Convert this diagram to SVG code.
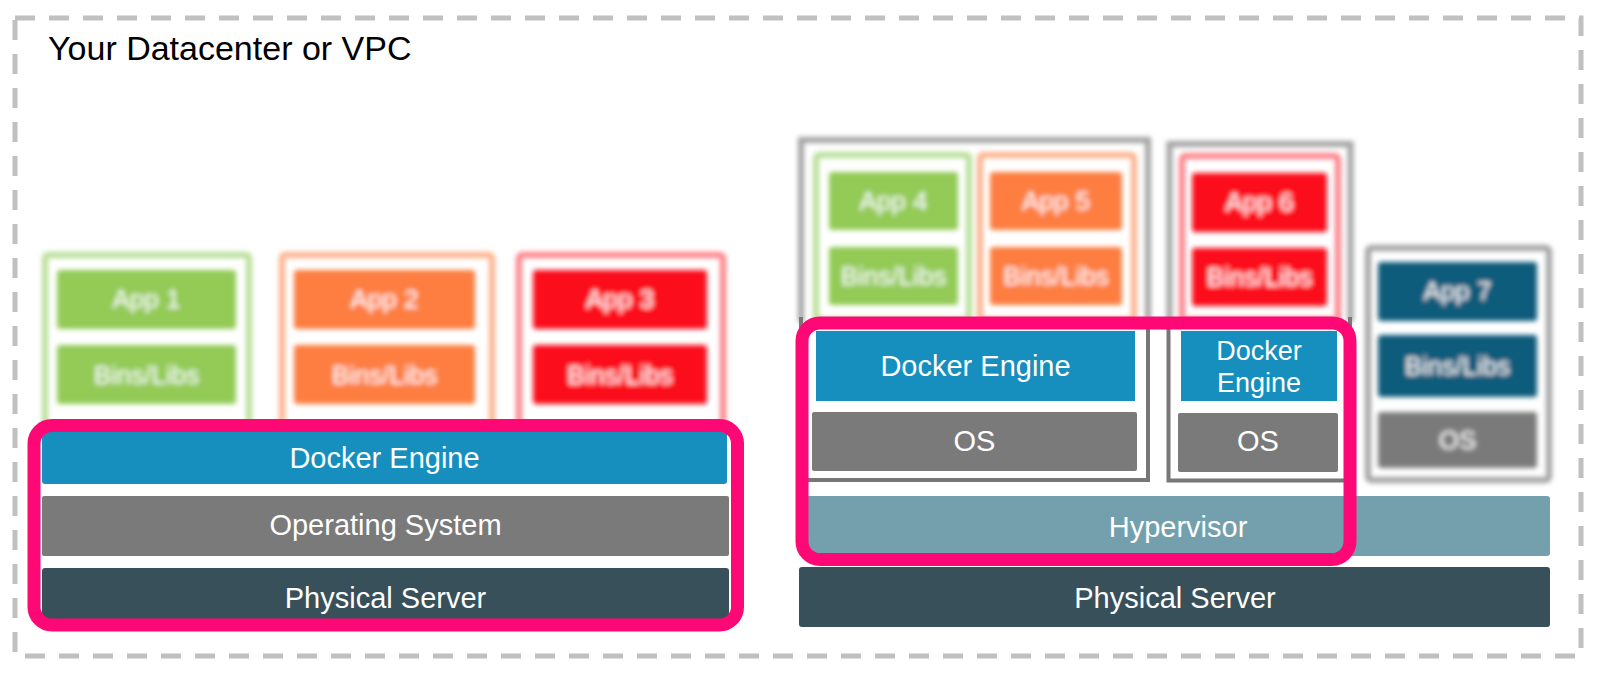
<svg xmlns="http://www.w3.org/2000/svg" width="1600" height="675" viewBox="0 0 1600 675">
  <defs>
    <filter id="blur" x="-10%" y="-10%" width="120%" height="120%">
      <feGaussianBlur stdDeviation="2.5"/>
    </filter>
    <style>
      text { font-family: "Liberation Sans", Arial, sans-serif; fill: #ffffff; text-anchor: middle; }
      .title { fill: #000000; text-anchor: start; font-size: 34px; }
      .lbl { font-size: 29px; }
      .app { font-size: 26px; }
      .docker { fill: #168fbe; }
      .os { fill: #7a7a7a; }
      .phys { fill: #38505a; }
      .hyp { fill: #74a0ae; }
      .green { fill: #93cb56; }
      .orange { fill: #fd7e40; }
      .red { fill: #fc0b1e; }
      .navy { fill: #0d5c7c; }
      .cgreen { fill: none; stroke: #b7de95; stroke-width: 6; }
      .corange { fill: none; stroke: #fdb18b; stroke-width: 6; }
      .cred { fill: none; stroke: #fd8088; stroke-width: 6; }
      .vmblur { fill: none; stroke: #a2a2a2; stroke-width: 6; }
      .vm { fill: none; stroke: #777777; stroke-width: 4; }
      .pink { fill: none; stroke: #fe0875; stroke-width: 13; }
    </style>
  </defs>

  <rect width="1600" height="675" fill="#ffffff"/>

  <g id="datacenter">
    <rect x="15" y="18" width="1566" height="638" fill="none" stroke="#c0c0c0" stroke-width="5" stroke-dasharray="20 14"/>
    <text class="title" x="48" y="60">Your Datacenter or VPC</text>
  </g>

  <!-- Blurred application containers -->
  <g id="left-apps" filter="url(#blur)">
    <g id="container1">
      <rect class="cgreen" x="45" y="255" width="204" height="172" rx="3"/>
      <rect class="green" x="57" y="270" width="179" height="59" rx="3"/>
      <text class="app" x="146.5" y="308">App 1</text>
      <rect class="green" x="57" y="345" width="179" height="59" rx="3"/>
      <text class="app" x="146.5" y="384">Bins/Libs</text>
    </g>
    <g id="container2">
      <rect class="corange" x="282" y="255" width="210" height="172" rx="3"/>
      <rect class="orange" x="294" y="270" width="181" height="59" rx="3"/>
      <text class="app" x="384.5" y="308">App 2</text>
      <rect class="orange" x="294" y="345" width="181" height="59" rx="3"/>
      <text class="app" x="384.5" y="384">Bins/Libs</text>
    </g>
    <g id="container3">
      <rect class="cred" x="519" y="255" width="204" height="172" rx="3"/>
      <rect class="red" x="533" y="270" width="174" height="59" rx="3"/>
      <text class="app" x="620" y="308">App 3</text>
      <rect class="red" x="533" y="345" width="174" height="59" rx="3"/>
      <text class="app" x="620" y="384">Bins/Libs</text>
    </g>
  </g>

  <g id="right-apps" filter="url(#blur)">
    <g id="vm1-top">
      <path class="vmblur" d="M801,322 V140 H1148 V322"/>
      <rect class="cgreen" x="816" y="155" width="153" height="165" rx="3"/>
      <rect class="green" x="829" y="172" width="129" height="58" rx="3"/>
      <text class="app" x="893.5" y="210">App 4</text>
      <rect class="green" x="829" y="247" width="129" height="58" rx="3"/>
      <text class="app" x="893.5" y="285">Bins/Libs</text>
      <rect class="corange" x="980" y="155" width="154" height="165" rx="3"/>
      <rect class="orange" x="990" y="172" width="132" height="58" rx="3"/>
      <text class="app" x="1056" y="210">App 5</text>
      <rect class="orange" x="990" y="247" width="132" height="58" rx="3"/>
      <text class="app" x="1056" y="285">Bins/Libs</text>
    </g>
    <g id="vm2-top">
      <path class="vmblur" d="M1169.5,322 V144 H1350.5 V322"/>
      <rect class="cred" x="1182" y="156" width="156" height="164" rx="3"/>
      <rect class="red" x="1192" y="173" width="135" height="59" rx="3"/>
      <text class="app" x="1259.5" y="211">App 6</text>
      <rect class="red" x="1192" y="248" width="135" height="58" rx="3"/>
      <text class="app" x="1259.5" y="286">Bins/Libs</text>
    </g>
    <g id="vm3">
      <rect class="vmblur" x="1368" y="248" width="181" height="232" rx="3"/>
      <rect class="navy" x="1378" y="262" width="159" height="59" rx="3"/>
      <text class="app" x="1457.5" y="300">App 7</text>
      <rect class="navy" x="1378" y="335" width="159" height="62" rx="3"/>
      <text class="app" x="1457.5" y="375">Bins/Libs</text>
      <rect class="os" x="1378" y="412" width="159" height="56" rx="3"/>
      <text class="app" x="1457.5" y="449">OS</text>
    </g>
  </g>

  <!-- Left stack: Docker on bare metal -->
  <g id="left-docker-engine">
    <rect class="docker" x="42" y="432" width="685" height="52" rx="3"/>
    <text class="lbl" x="384.5" y="468">Docker Engine</text>
  </g>
  <g id="left-os">
    <rect class="os" x="42" y="496" width="687" height="60" rx="2"/>
    <text class="lbl" x="385.5" y="535">Operating System</text>
  </g>
  <g id="left-physical-server">
    <rect class="phys" x="42" y="568" width="687" height="58" rx="3"/>
    <text class="lbl" x="385.5" y="608">Physical Server</text>
  </g>

  <!-- Right stack: Docker in VMs -->
  <g id="vm1">
    <path class="vm" d="M801,317 V480 H1148 V317"/>
    <g id="vm1-docker-engine">
      <rect class="docker" x="816" y="331" width="319" height="70"/>
      <text class="lbl" x="975.5" y="376">Docker Engine</text>
    </g>
    <g id="vm1-os">
      <rect class="os" x="812" y="412" width="325" height="59" rx="2"/>
      <text class="lbl" x="974.5" y="451">OS</text>
    </g>
  </g>
  <g id="vm2">
    <path class="vm" d="M1168.5,317 V480.5 H1350 V317"/>
    <g id="vm2-docker-engine">
      <rect class="docker" x="1181" y="331" width="156" height="70"/>
      <text class="lbl" x="1259" y="360" style="font-size:27px">Docker</text>
      <text class="lbl" x="1259" y="392" style="font-size:27px">Engine</text>
    </g>
    <g id="vm2-os">
      <rect class="os" x="1178" y="413" width="160" height="59" rx="2"/>
      <text class="lbl" x="1258" y="451">OS</text>
    </g>
  </g>
  <g id="hypervisor">
    <rect class="hyp" x="806" y="496" width="744" height="60" rx="3"/>
    <text class="lbl" x="1178" y="537">Hypervisor</text>
  </g>
  <g id="right-physical-server">
    <rect class="phys" x="799" y="567" width="751" height="60" rx="3"/>
    <text class="lbl" x="1175" y="608">Physical Server</text>
  </g>

  <!-- Highlight frames -->
  <g id="highlights">
    <rect class="pink" x="34" y="425.5" width="703.5" height="199.5" rx="18"/>
    <rect class="pink" x="802" y="323" width="548" height="236.5" rx="18"/>
  </g>
</svg>
